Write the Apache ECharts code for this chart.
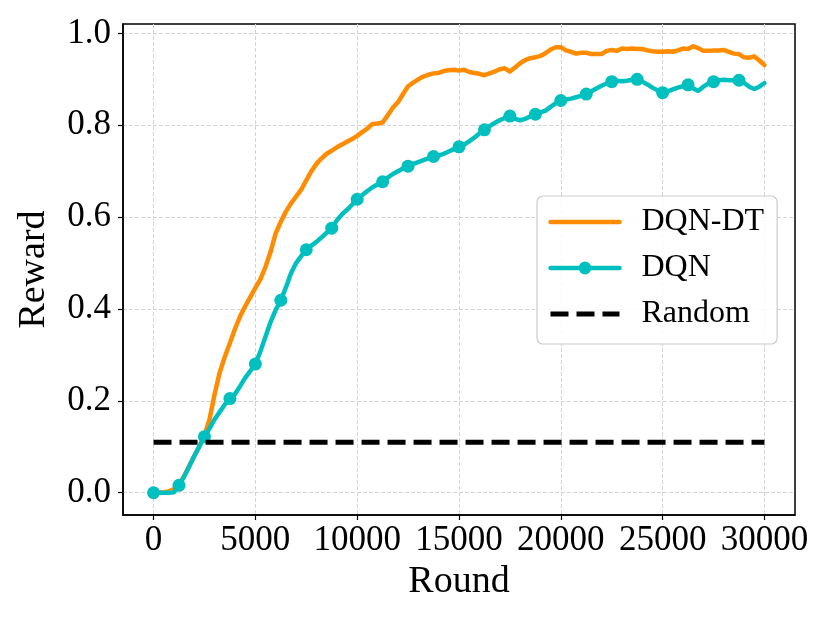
<!DOCTYPE html>
<html>
<head>
<meta charset="utf-8">
<title>Reward vs Round</title>
<script src="https://cdn.jsdelivr.net/npm/echarts@6/dist/echarts.min.js"></script>
<style>
  html, body { margin: 0; padding: 0; background: #fff; }
  #chart { width: 830px; height: 623px; }
</style>
</head>
<body>
<div id="chart"></div>
<script>
// 读图估计的数据，每 250 轮一个点
const STEP = 250;
const dqnDT = [
  0.000, 0.000, 0.001, 0.003, 0.008, 0.018, 0.036, 0.058, 0.080, 0.101,
  0.125, 0.160, 0.215, 0.262, 0.296, 0.326, 0.357, 0.384, 0.406, 0.426,
  0.446, 0.465, 0.492, 0.525, 0.565, 0.590, 0.612, 0.630, 0.645, 0.660,
  0.680, 0.700, 0.716, 0.728, 0.738, 0.745, 0.752, 0.758, 0.764, 0.770,
  0.777, 0.785, 0.793, 0.803, 0.804, 0.806, 0.822, 0.838, 0.850, 0.868,
  0.885, 0.893, 0.900, 0.906, 0.910, 0.913, 0.914, 0.918, 0.920, 0.921,
  0.919, 0.921, 0.916, 0.914, 0.912, 0.909, 0.913, 0.917, 0.922, 0.924,
  0.917, 0.926, 0.935, 0.942, 0.946, 0.948, 0.951, 0.957, 0.965, 0.970,
  0.970, 0.963, 0.960, 0.956, 0.958, 0.958, 0.955, 0.955, 0.955, 0.962,
  0.964, 0.962, 0.967, 0.966, 0.967, 0.966, 0.966, 0.963, 0.961, 0.960,
  0.960, 0.961, 0.960, 0.963, 0.967, 0.966, 0.972, 0.968, 0.962, 0.962,
  0.963, 0.963, 0.964, 0.960, 0.956, 0.955, 0.948, 0.947, 0.950, 0.941,
  0.931
];
const dqn = [
  0.000, 0.000, 0.000, 0.000, 0.001, 0.016, 0.035, 0.057, 0.080, 0.101,
  0.122, 0.140, 0.160, 0.176, 0.192, 0.205, 0.215, 0.232, 0.250, 0.265,
  0.280, 0.308, 0.340, 0.372, 0.398, 0.419, 0.447, 0.478, 0.500, 0.515,
  0.529, 0.538, 0.546, 0.556, 0.566, 0.576, 0.593, 0.606, 0.616, 0.627,
  0.639, 0.648, 0.657, 0.665, 0.671, 0.677, 0.686, 0.694, 0.700, 0.706,
  0.711, 0.716, 0.720, 0.724, 0.728, 0.732, 0.734, 0.738, 0.743, 0.748,
  0.753, 0.758, 0.765, 0.773, 0.782, 0.790, 0.798, 0.805, 0.811, 0.816,
  0.820, 0.814, 0.811, 0.814, 0.819, 0.824, 0.828, 0.832, 0.840, 0.848,
  0.854, 0.856, 0.858, 0.861, 0.864, 0.868, 0.874, 0.880, 0.886, 0.891,
  0.895, 0.897, 0.896, 0.897, 0.899, 0.900, 0.895, 0.889, 0.882, 0.876,
  0.871, 0.874, 0.878, 0.882, 0.885, 0.888, 0.880, 0.875, 0.884, 0.891,
  0.895, 0.898, 0.899, 0.898, 0.898, 0.898, 0.892, 0.884, 0.879, 0.884,
  0.892
];
const randomReward = 0.11;
const MARK_EVERY = 5; // DQN 每 5 个点画一个圆点
const xTicks = [0, 5000, 10000, 15000, 20000, 25000, 30000];
const yTicks = [0.0, 0.2, 0.4, 0.6, 0.8, 1.0];

const rounds = dqnDT.map((_, i) => i * STEP);
const lastRound = rounds[rounds.length - 1];

const FONT = '"Liberation Serif", "DejaVu Serif", serif';
const ORANGE = '#ff8c00';
const CYAN = '#00bfbf';

const chart = echarts.init(document.getElementById('chart'), null, { renderer: 'canvas' });

const gridLine = { show: true, lineStyle: { color: '#d4d4d4', width: 1, type: [4, 2] } };

const option = {
  animation: false,
  backgroundColor: '#fff',
  grid: {
    left: 123, right: 35, top: 24, bottom: 108,
    show: true, borderColor: '#000', borderWidth: 1.5,
    outerBoundsMode: 'none'
  },
  legend: {
    orient: 'vertical',
    left: 537, top: 196,
    itemWidth: 69, itemHeight: 16, itemGap: 14,
    padding: [10, 13, 14, 11],
    backgroundColor: 'rgba(255,255,255,0.85)',
    borderColor: '#cccccc', borderWidth: 1.2, borderRadius: 6,
    textStyle: { fontFamily: FONT, fontSize: 32, color: '#000', padding: [0, 0, 0, 17] },
    data: [
      // 不带圆点的两条线把图例里的圆点隐藏
      { name: 'DQN-DT', itemStyle: { opacity: 0 }, lineStyle: { width: 4.5 } },
      { name: 'DQN', lineStyle: { width: 4.5 } },
      { name: 'Random', itemStyle: { opacity: 0 }, lineStyle: { width: 5, type: [18, 8] } }
    ]
  },
  xAxis: {
    type: 'value',
    min: -1500, max: 31500,
    name: 'Round', nameLocation: 'middle', nameGap: 46,
    nameTextStyle: { fontFamily: FONT, fontSize: 38, color: '#000' },
    axisLine: { show: true, onZero: false, lineStyle: { color: '#000', width: 1.5 } },
    axisTick: { show: true, inside: false, length: 5, lineStyle: { color: '#000', width: 1.2 }, customValues: xTicks },
    axisLabel: {
      fontFamily: FONT, fontSize: 35, color: '#000', margin: 8, customValues: xTicks,
      formatter: (v) => String(v)
    },
    splitLine: gridLine
  },
  yAxis: {
    type: 'value',
    min: -0.0485, max: 1.0205,
    name: 'Reward', nameLocation: 'middle', nameGap: 70,
    nameTextStyle: { fontFamily: FONT, fontSize: 38, color: '#000' },
    axisLine: { show: true, onZero: false, lineStyle: { color: '#000', width: 1.5 } },
    axisTick: { show: true, inside: false, length: 5, lineStyle: { color: '#000', width: 1.2 }, customValues: yTicks },
    axisLabel: {
      fontFamily: FONT, fontSize: 35, color: '#000', margin: 12, customValues: yTicks,
      formatter: (v) => v.toFixed(1)
    },
    splitLine: gridLine
  },
  series: [
    {
      name: 'DQN-DT',
      type: 'line',
      data: rounds.map((r, i) => [r, dqnDT[i]]),
      showSymbol: false,
      symbol: 'none',
      lineStyle: { color: ORANGE, width: 4.5, cap: 'round', join: 'round' },
      itemStyle: { color: ORANGE },
      z: 2
    },
    {
      name: 'DQN',
      type: 'line',
      data: rounds.map((r, i) => {
        const hasMark = i % MARK_EVERY === 0 && r !== lastRound;
        return { value: [r, dqn[i]], symbol: hasMark ? 'circle' : 'none' };
      }),
      symbol: 'circle',
      symbolSize: 13,
      showSymbol: true,
      showAllSymbol: true,
      lineStyle: { color: CYAN, width: 4.5, cap: 'round', join: 'round' },
      itemStyle: { color: CYAN, borderWidth: 0 },
      z: 3
    },
    {
      name: 'Random',
      type: 'line',
      data: [[0, randomReward], [lastRound, randomReward]],
      showSymbol: false,
      symbol: 'none',
      lineStyle: { color: '#000', width: 5, type: [18, 8] },
      itemStyle: { color: '#000' },
      z: 4
    }
  ]
};

chart.setOption(option);
</script>
</body>
</html>
